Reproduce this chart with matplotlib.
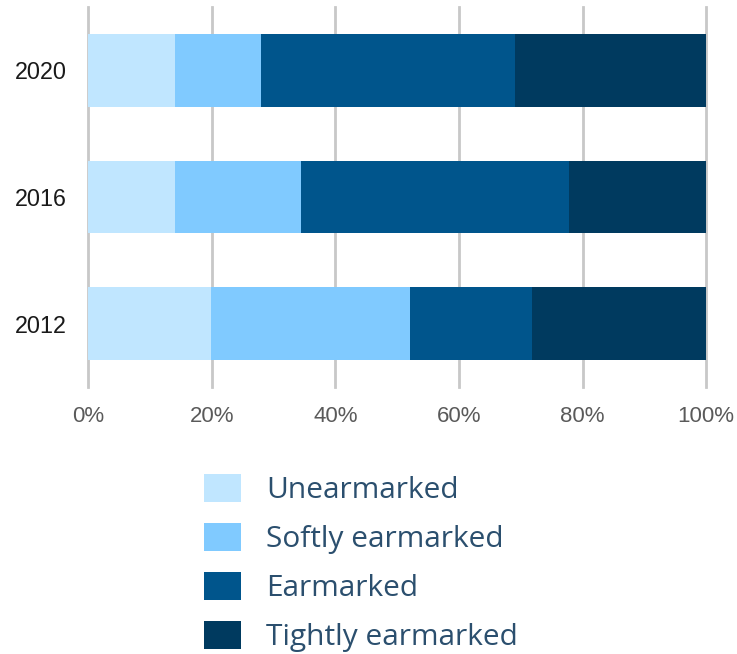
import matplotlib.pyplot as plt
import numpy as np

# Data (share of funding, %)
years = ["2012", "2016", "2020"]
categories = ["Unearmarked", "Softly earmarked", "Earmarked", "Tightly earmarked"]
unearmarked = [19.9, 14.1, 14.1]
softly_earmarked = [32.2, 20.3, 13.9]
earmarked = [19.8, 43.4, 41.1]
tightly_earmarked = [28.1, 22.2, 30.9]
colors = ["#c0e6ff", "#80caff", "#00558c", "#003a5f"]
xticks = [0, 20, 40, 60, 80, 100]

series = [unearmarked, softly_earmarked, earmarked, tightly_earmarked]

fig = plt.figure(figsize=(7.37, 6.54), dpi=100)
ax = fig.add_axes([0.1194, 0.4083, 0.8388, 0.581])

y = np.arange(len(years))
left = np.zeros(len(years))
for vals, col, name in zip(series, colors, categories):
    ax.barh(y, vals, left=left, height=0.572, color=col, label=name,
            linewidth=0, zorder=2)
    left += np.array(vals)

ax.set_xlim(0, 100)
ax.set_ylim(-0.5, 2.5)
ax.set_yticks(y)
ax.set_yticklabels(years, fontsize=16.8, color="#1a1a1a", family="Liberation Sans")
ax.set_xticks(xticks)
ax.set_xticklabels([f"{t}%" for t in xticks], fontsize=16, color="#5a5a5a",
                   family="Liberation Sans")
ax.tick_params(axis="x", length=0, pad=14)
ax.tick_params(axis="y", length=0, pad=15)

for s in ax.spines.values():
    s.set_visible(False)
for t in xticks:
    ax.axvline(t, color="#c8c8c8", linewidth=2, zorder=1, clip_on=False)

fig.legend(loc="upper left", bbox_to_anchor=(0.277, 0.275), frameon=False,
           prop={"family": "Open Sans", "size": 21.5},
           labelcolor="#2b4f6e",
           handlelength=1.24, handleheight=1.05, handletextpad=0.83,
           labelspacing=0.6, borderpad=0, borderaxespad=0)
for h in fig.legends[0].legend_handles:
    h.set_edgecolor("none")

fig.savefig("out.png", dpi=100)
